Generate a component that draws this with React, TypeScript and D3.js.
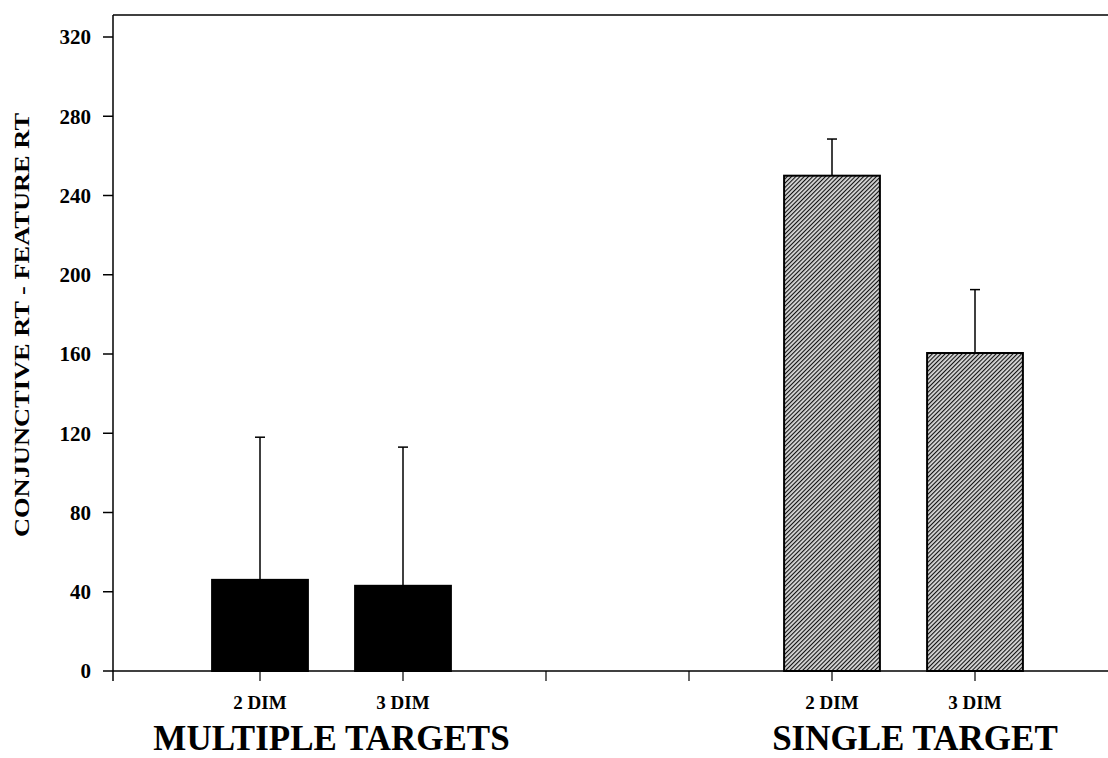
import * as d3 from 'd3';

// data
const conditions = ['2 DIM', '3 DIM'];
const groups = ['MULTIPLE TARGETS', 'SINGLE TARGET'];
const multipleMeans = [46, 43];
const multipleErrors = [72, 70];
const singleMeans = [250, 160.5];
const singleErrors = [18.5, 32];
const yTicks = [0, 40, 80, 120, 160, 200, 240, 280, 320];

const W = 1108;
const H = 758;
const FONT = '"Liberation Serif", "Times New Roman", serif';

const App = () => {
  const x = d3.scaleLinear().domain([0, 7]).range([117, 1118]);
  const y = d3.scaleLinear().domain([0, 320]).range([671, 37]);
  const axisX = 113;
  const topY = 15;
  const step = x(1) - x(0);
  const barW = step * 0.67;

  // slot positions on the category axis: 1,2 for multiple, 5,6 for single
  const bars = [
    ...conditions.map((c, i) => ({ cond: c, slot: 1 + i, mean: multipleMeans[i], err: multipleErrors[i], hatch: false })),
    ...conditions.map((c, i) => ({ cond: c, slot: 5 + i, mean: singleMeans[i], err: singleErrors[i], hatch: true })),
  ];
  const groupCenters = [1.5, 5.58];
  const xTicks = d3.range(1, 7);

  return (
    <svg width={W} height={H} style={{ display: 'block', position: 'absolute', left: 0, top: 0, background: '#fff' }}>
      <defs>
        <pattern id="hatch" patternUnits="userSpaceOnUse" width={3} height={3} patternTransform="rotate(45)">
          <rect width={3} height={3} fill="#d8d8d8" />
          <line x1={0} y1={0} x2={0} y2={3} stroke="#111" strokeWidth={2.2} />
        </pattern>
      </defs>

      {/* frame */}
      <line x1={axisX} y1={topY} x2={W} y2={topY} stroke="#000" strokeWidth={1.5} />
      <line x1={axisX} y1={topY} x2={axisX} y2={y(0) + 10} stroke="#000" strokeWidth={1.5} />
      <line x1={axisX} y1={y(0)} x2={W} y2={y(0)} stroke="#000" strokeWidth={1.5} />

      {/* y axis */}
      {yTicks.map(t => (
        <g key={t}>
          <line x1={axisX - 10} x2={axisX} y1={y(t)} y2={y(t)} stroke="#000" strokeWidth={1.5} />
          <text x={91} y={y(t)} dy="0.35em" textAnchor="end" fontFamily={FONT} fontWeight="bold" fontSize={21}>
            {t}
          </text>
        </g>
      ))}
      <text
        transform={`translate(29, 325) rotate(-90)`}
        textAnchor="middle"
        fontFamily={FONT}
        fontWeight="bold"
        fontSize={22}
        textLength={424}
        lengthAdjust="spacingAndGlyphs"
      >
        CONJUNCTIVE RT - FEATURE RT
      </text>

      {/* x ticks */}
      {xTicks.map(t => (
        <line key={t} x1={x(t)} x2={x(t)} y1={y(0)} y2={y(0) + 10} stroke="#000" strokeWidth={1.2} />
      ))}

      {/* bars */}
      {bars.map((b, i) => (
        <g key={i}>
          <line x1={x(b.slot)} x2={x(b.slot)} y1={y(b.mean)} y2={y(b.mean + b.err)} stroke="#000" strokeWidth={1.5} />
          <line x1={x(b.slot) - 5} x2={x(b.slot) + 5} y1={y(b.mean + b.err)} y2={y(b.mean + b.err)} stroke="#000" strokeWidth={1.5} />
          <rect
            x={x(b.slot) - barW / 2}
            y={y(b.mean)}
            width={barW}
            height={y(0) - y(b.mean)}
            fill={b.hatch ? 'url(#hatch)' : '#000'}
            stroke="#000"
            strokeWidth={2}
          />
          <text x={x(b.slot)} y={709} textAnchor="middle" fontFamily={FONT} fontWeight="bold" fontSize={19}>
            {b.cond}
          </text>
        </g>
      ))}

      {/* group labels */}
      {groups.map((g, i) => (
        <text key={g} x={x(groupCenters[i])} y={750} textAnchor="middle" fontFamily={FONT} fontWeight="bold" fontSize={35}>
          {g}
        </text>
      ))}
    </svg>
  );
};

export default App;
